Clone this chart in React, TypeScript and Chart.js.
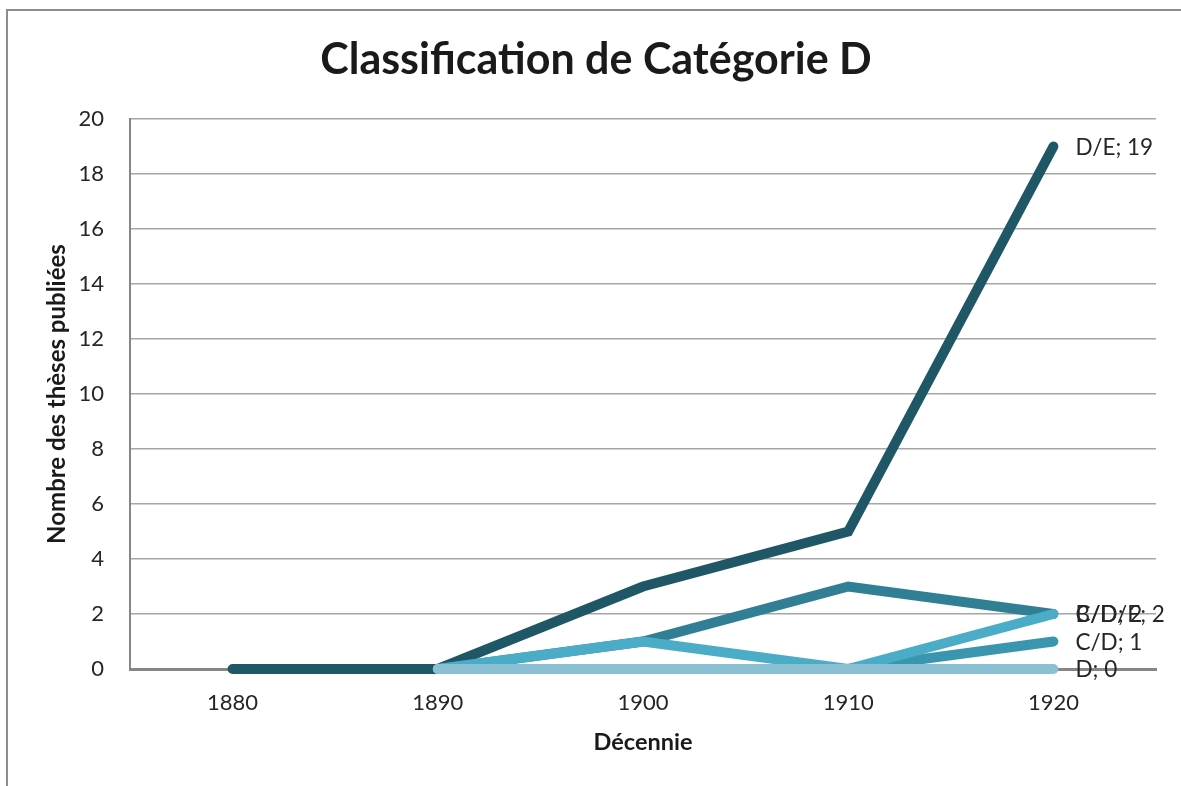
import React, { useEffect, useRef } from "react";
import { Chart, registerables } from "chart.js";

Chart.register(...registerables);

const decades = ["1880", "1890", "1900", "1910", "1920"];
const seriesDE = [0, 0, 3, 5, 19];
const seriesBDE = [null, 0, 1, 3, 2];
const seriesCD1 = [null, 0, 0, 0, 1];
const seriesCD2 = [null, 0, 1, 0, 2];
const seriesD = [null, 0, 0, 0, 0];
const seriesNames = ["D/E", "B/D/E", "C/D", "C/D", "D"];
const yTicks = [0, 2, 4, 6, 8, 10, 12, 14, 16, 18, 20];

const FONT = "Lato, 'Open Sans', 'DejaVu Sans', sans-serif";

const endLabels = {
  id: "endLabels",
  afterDatasetsDraw(chart: any) {
    const ctx = chart.ctx;
    ctx.save();
    ctx.font = `22.5px ${FONT}`;
    ctx.fillStyle = "#262626";
    ctx.textAlign = "left";
    ctx.textBaseline = "middle";
    chart.data.datasets.forEach((ds: any, i: number) => {
      const meta = chart.getDatasetMeta(i);
      const last = ds.data.length - 1;
      const pt = meta.data[last];
      if (!pt) return;
      ctx.fillText(`${ds.label}; ${ds.data[last]}`, pt.x + 22, pt.y + 1);
    });
    ctx.restore();
  },
};

const titlePlugin = {
  id: "bigTitle",
  afterDraw(chart: any) {
    const ctx = chart.ctx;
    ctx.save();
    ctx.font = `bold 43px ${FONT}`;
    ctx.fillStyle = "#1a1a1a";
    ctx.textAlign = "center";
    ctx.textBaseline = "middle";
    ctx.fillText("Classification de Catégorie D", 596, 60);
    ctx.restore();
  },
};

export default function App() {
  const ref = useRef<HTMLCanvasElement>(null);
  useEffect(() => {
    if (!ref.current) return;
    const common = {
      borderWidth: 10,
      pointRadius: 0,
      pointHoverRadius: 0,
      borderCapStyle: "round",
      borderJoinStyle: "miter",
      tension: 0,
      spanGaps: false,
      clip: false,
    };
    const chart = new Chart(ref.current, {
      type: "line",
      data: {
        labels: decades,
        datasets: [
          { ...common, label: seriesNames[0], data: seriesDE, borderColor: "#1F5767", backgroundColor: "#1F5767", order: 5 },
          { ...common, label: seriesNames[1], data: seriesBDE, borderColor: "#317F95", backgroundColor: "#317F95", order: 4 },
          { ...common, label: seriesNames[2], data: seriesCD1, borderColor: "#3A96AF", backgroundColor: "#3A96AF", order: 3 },
          { ...common, label: seriesNames[3], data: seriesCD2, borderColor: "#4AACC6", backgroundColor: "#4AACC6", order: 2 },
          { ...common, label: seriesNames[4], data: seriesD, borderColor: "#8BC0D2", backgroundColor: "#8BC0D2", order: 1 },
        ] as any,
      },
      options: {
        animation: false,
        responsive: false,
        maintainAspectRatio: false,
        layout: { padding: { top: 119, left: 0, right: 25, bottom: 0 } },
        plugins: {
          legend: { display: false },
          title: { display: false },
          tooltip: { enabled: false },
        },
        scales: {
          x: {
            offset: true,
            grid: { display: false, drawTicks: false },
            border: { display: true, color: "#868686", width: 3 },
            ticks: { color: "#262626", font: { family: FONT, size: 22 }, padding: 21, maxRotation: 0 },
            title: {
              display: true,
              text: "Décennie",
              color: "#1a1a1a",
              font: { family: FONT, size: 23.5, weight: "bold" },
              padding: { top: 0, bottom: 29 },
            },
            afterFit: (s: any) => {
              s.height = 117;
            },
          },
          y: {
            min: 0,
            max: 20,
            afterBuildTicks: (s: any) => {
              s.ticks = yTicks.map((v) => ({ value: v }));
            },
            grid: { color: "#A6A6A6", lineWidth: 1.5, drawTicks: false },
            border: { display: true, color: "#868686", width: 2 },
            ticks: { color: "#262626", font: { family: FONT, size: 22 }, padding: 26 },
            title: {
              display: true,
              text: "Nombre des thèses publiées",
              color: "#1a1a1a",
              font: { family: FONT, size: 24, weight: "bold" },
              padding: { top: 43, bottom: 0 },
            },
            afterFit: (s: any) => {
              s.width = 130;
            },
          },
        },
      } as any,
      plugins: [endLabels, titlePlugin],
    });
    return () => chart.destroy();
  }, []);

  return (
    <div style={{ position: "fixed", left: 0, top: 0, width: 1181, height: 786, background: "#fff" }}>
      <div
        style={{
          position: "absolute",
          left: 6,
          top: 9,
          width: 1200,
          height: 777,
          borderLeft: "2px solid #8C8C8C",
          borderTop: "2px solid #8C8C8C",
        }}
      />
      <canvas ref={ref} width={1181} height={786} style={{ position: "absolute", left: 0, top: 0 }} />
    </div>
  );
}
